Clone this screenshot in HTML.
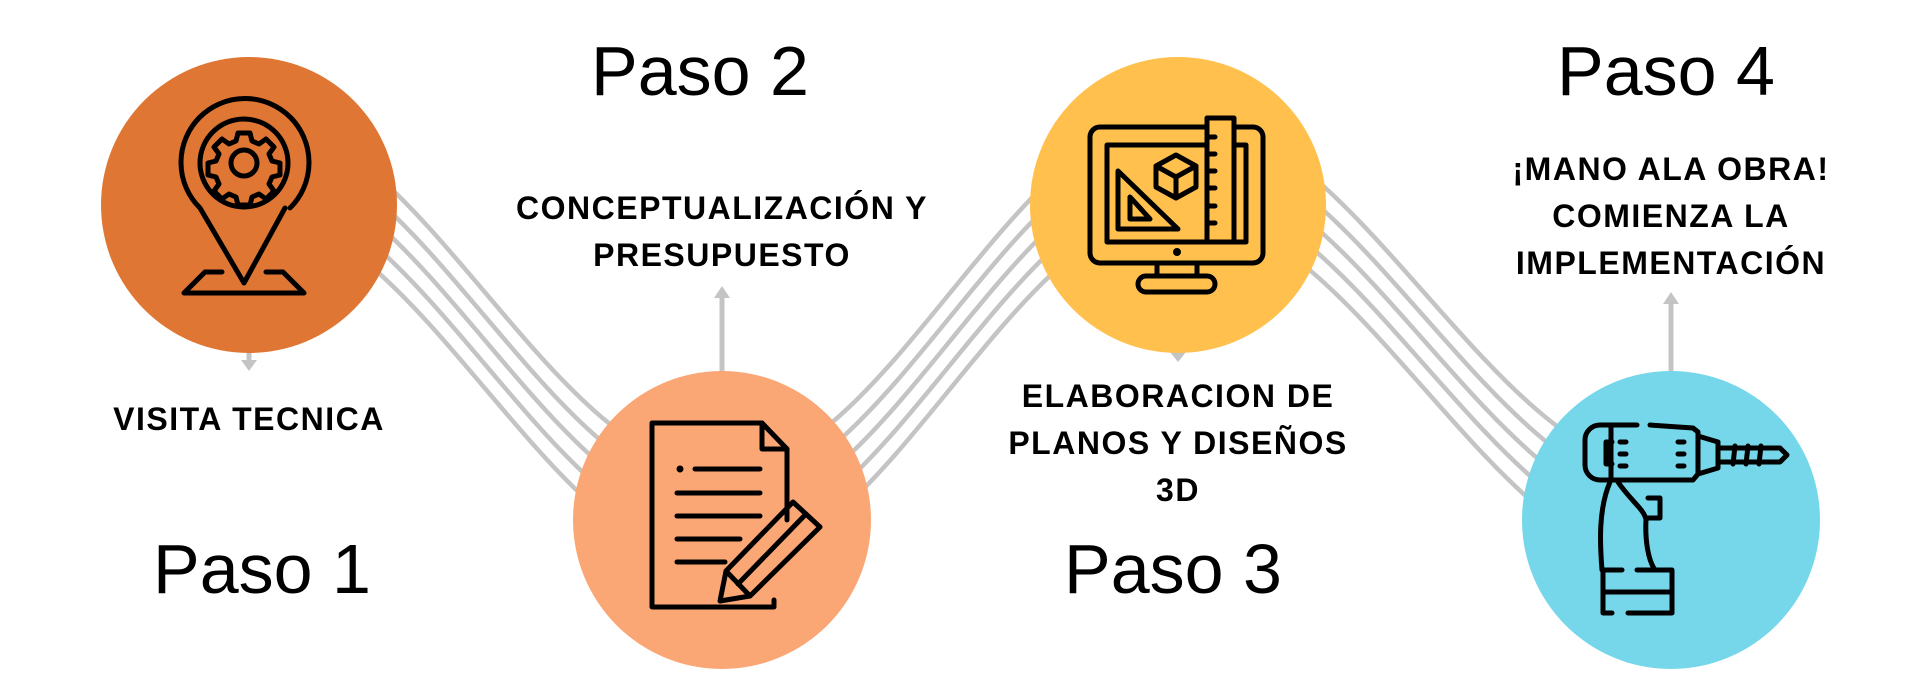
<!DOCTYPE html>
<html><head><meta charset="utf-8"><style>
html,body{margin:0;padding:0;background:#fff;}
body{width:1920px;height:700px;overflow:hidden;position:relative;font-family:"Liberation Sans",sans-serif;}
svg{position:absolute;left:0;top:0;}
.t{position:absolute;text-align:center;color:#000;}
.paso{font-size:70px;line-height:70px;}
.lab{font-size:32px;font-weight:bold;line-height:47px;white-space:nowrap;letter-spacing:1.5px;}
</style></head><body>
<svg width="1920" height="700" viewBox="0 0 1920 700">
<g fill="none" stroke="#c4c4c4" stroke-width="4.5">
<path d="M249,114 C419,114 552,472 722,472 C886,472 1014,114 1178,114 C1355,114 1494,472 1671,472"/>
<path d="M249,138 C419,138 552,496 722,496 C886,496 1014,138 1178,138 C1355,138 1494,496 1671,496"/>
<path d="M249,162 C419,162 552,520 722,520 C886,520 1014,162 1178,162 C1355,162 1494,520 1671,520"/>
<path d="M249,186 C419,186 552,544 722,544 C886,544 1014,186 1178,186 C1355,186 1494,544 1671,544"/>
<path d="M249,210 C419,210 552,568 722,568 C886,568 1014,210 1178,210 C1355,210 1494,568 1671,568"/>
</g>
<g stroke="#c4c4c4" stroke-width="5" fill="#c4c4c4">
<line x1="249" y1="350" x2="249" y2="362"/><polygon points="241,360 257,360 249,371" stroke="none"/>
<line x1="722" y1="372" x2="722" y2="296"/><polygon points="714,298 730,298 722,286" stroke="none"/>
<polygon points="1170,352 1186,352 1178,362" stroke="none"/>
<line x1="1671" y1="372" x2="1671" y2="302"/><polygon points="1663,304 1679,304 1671,292" stroke="none"/>
</g>
<circle cx="249" cy="205" r="148" fill="#E07633"/>
<circle cx="722" cy="520" r="149" fill="#FBA775"/>
<circle cx="1178" cy="205" r="148" fill="#FFC04D"/>
<circle cx="1671" cy="520" r="149" fill="#76D7EA"/>
<g fill="none" stroke="#000" stroke-width="5" stroke-linecap="round" stroke-linejoin="round">
<path d="M290,208 A64,64 0 1 0 200,208 L244,283 L285,208"/>
<circle cx="244" cy="163" r="44"/>
<path d="M238,133 h12 l2,8 l7,3 l7,-5 l8,8 l-5,7 l3,7 l8,2 v12 l-8,2 l-3,7 l5,7 l-8,8 l-7,-5 l-7,3 l-2,8 h-12 l-2,-8 l-7,-3 l-7,5 l-8,-8 l5,-7 l-3,-7 l-8,-2 v-12 l8,-2 l3,-7 l-5,-7 l8,-8 l7,5 l7,-3 z"/>
<circle cx="244" cy="163" r="13"/>
<path d="M222,272 H205 L184,293 H304 L283,272 H266"/>
<path d="M774,600 V607 H652 V423 H762 L787,449 V520"/>
<path d="M762,423 V449 H787"/>
<line x1="680" y1="469" x2="680" y2="469" stroke-width="7"/>
<line x1="695" y1="469" x2="760" y2="469"/>
<line x1="677" y1="493" x2="760" y2="493"/>
<line x1="677" y1="516" x2="760" y2="516"/>
<line x1="677" y1="539" x2="740" y2="539"/>
<line x1="677" y1="562" x2="725" y2="562"/>
<path d="M793,502 L820,527 L750,596 L720,601 L726,571 Z"/>
<line x1="726" y1="571" x2="750" y2="596"/>
<line x1="806" y1="514" x2="738" y2="584"/>
<path d="M1207,127 H1100 a10,10 0 0 0 -10,10 V253 a10,10 0 0 0 10,10 H1253 a10,10 0 0 0 10,-10 V137 a10,10 0 0 0 -10,-10 H1234"/>
<path d="M1207,145 H1107 V242 H1246 V145 H1234"/>
<rect x="1207" y="118" width="27" height="124"/>
<path d="M1207,137 h8 M1207,154 h8 M1207,171 h8 M1207,188 h8 M1207,206 h8 M1207,223 h8"/>
<path d="M1118,171 L1178,229 H1118 Z"/>
<path d="M1130,197 L1150,219 H1130 Z"/>
<path d="M1176,155 L1196,166 V187 L1176,198 L1156,187 V166 Z M1156,166 L1176,177 L1196,166 M1176,177 V198"/>
<circle cx="1177" cy="252" r="1.5" fill="#000"/>
<path d="M1157,263 V276 M1197,263 V276"/>
<rect x="1138" y="276" width="77" height="16" rx="8"/>
<path d="M1637,425 H1600 a15,15 0 0 0 -15,15 V465 a15,15 0 0 0 15,15 H1693 L1698,474 V432 L1693,428 L1650,425"/>
<path d="M1612,442 h-6 v22 h6"/>
<path d="M1620,442 h6 M1620,454 h6 M1620,466 h6"/>
<path d="M1678,442 h6 M1678,454 h6 M1678,466 h6"/>
<path d="M1611,425 V480"/>
<path d="M1698,436 L1718,442 V468 L1698,474"/>
<path d="M1718,448 H1780 L1787,455 L1780,462 H1718"/>
<path d="M1735,446 L1733,464 M1748,446 L1746,464 M1761,446 L1759,464"/>
<path d="M1610,482 C1598,510 1600,545 1602,570 M1618,482 C1630,500 1645,510 1646,520 C1645,540 1648,560 1655,570"/>
<path d="M1648,518 H1660 V498 H1648"/>
<path d="M1622,570 H1603 V613 H1612 M1628,613 H1672 V570 H1637"/>
<line x1="1603" y1="592" x2="1672" y2="592"/>
</g>
</svg>
<div class="t paso" style="left:591px;top:36px;">Paso 2</div>
<div class="t paso" style="left:1557px;top:36px;">Paso 4</div>
<div class="t paso" style="left:153px;top:534px;">Paso 1</div>
<div class="t paso" style="left:1064px;top:534px;">Paso 3</div>
<div class="t lab" style="left:49px;width:400px;top:396px;">VISITA TECNICA</div>
<div class="t lab" style="left:472px;width:500px;top:185px;">CONCEPTUALIZACIÓN Y<br>PRESUPUESTO</div>
<div class="t lab" style="left:928px;width:500px;top:373px;">ELABORACION DE<br>PLANOS Y DISEÑOS<br>3D</div>
<div class="t lab" style="left:1421px;width:500px;top:146px;">¡MANO ALA OBRA!<br>COMIENZA LA<br>IMPLEMENTACIÓN</div>
</body></html>
